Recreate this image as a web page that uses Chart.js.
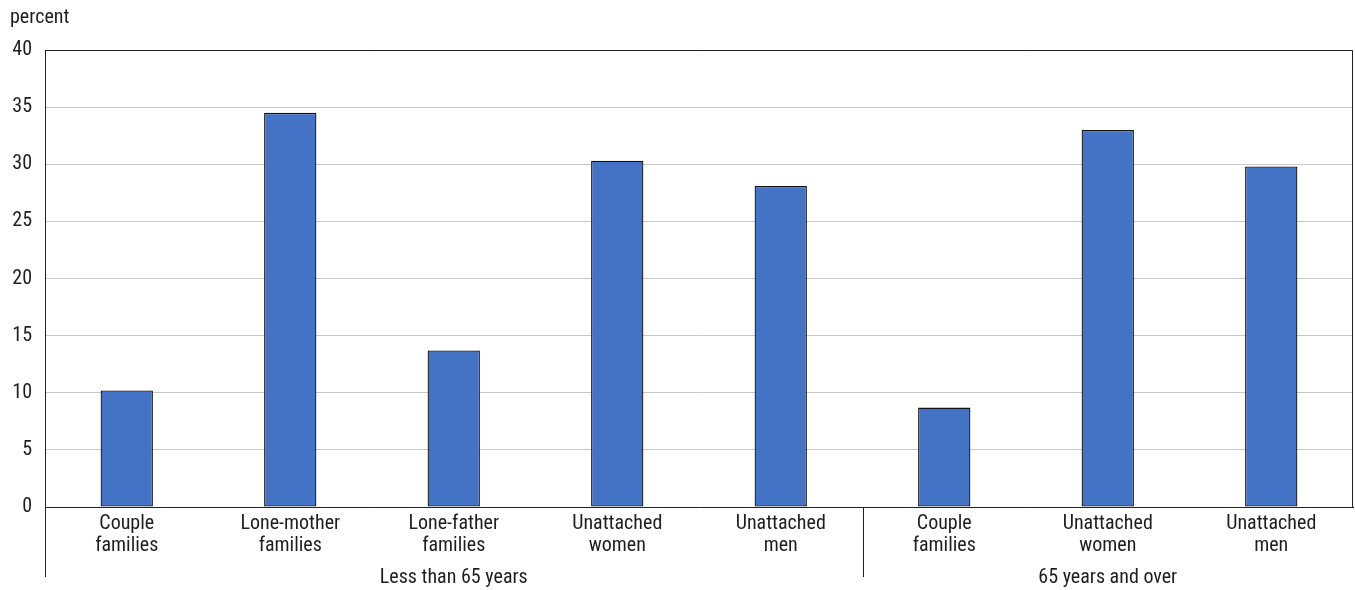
<!DOCTYPE html>
<html>
<head>
<meta charset="utf-8">
<script src="https://cdn.jsdelivr.net/npm/chart.js@4"></script>
<style>
  body { margin: 0; background: #fff; }
  #wrap { width: 1355px; height: 590px; }
</style>
</head>
<body>
<div id="wrap"><canvas id="chart" width="1355" height="590"></canvas></div>
<script>
// categories and values
var categories = [
  ["Couple", "families"],
  ["Lone-mother", "families"],
  ["Lone-father", "families"],
  ["Unattached", "women"],
  ["Unattached", "men"],
  ["Couple", "families"],
  ["Unattached", "women"],
  ["Unattached", "men"]
];
var values = [10.2, 34.5, 13.7, 30.3, 28.1, 8.7, 33.0, 29.8];
var groups = ["Less than 65 years", "65 years and over"];
var groupSizes = [5, 3];
var yTicks = [0, 5, 10, 15, 20, 25, 30, 35, 40];
var yTitle = "percent";

var FONT = "'Roboto Condensed', 'Liberation Sans Narrow', Roboto, sans-serif";
var TEXT = '#1e1e1e';

// axis title, group labels under the category labels, separator lines, frame
var groupPlugin = {
  id: 'groups',
  afterDraw: function(chart) {
    var ctx = chart.ctx;
    var area = chart.chartArea;
    var x = chart.scales.x;
    var step = (area.right - area.left) / categories.length;
    var bottom = 577;
    ctx.save();
    ctx.fillStyle = TEXT;
    ctx.font = '20px ' + FONT;
    ctx.textAlign = 'left';
    ctx.textBaseline = 'middle';
    ctx.fillText(yTitle, 10, 18);

    // frame top/right
    ctx.strokeStyle = '#222';
    ctx.lineWidth = 1;
    ctx.beginPath();
    ctx.moveTo(area.left, area.top + 0.5);
    ctx.lineTo(area.right - 0.5, area.top + 0.5);
    ctx.lineTo(area.right - 0.5, area.bottom);
    ctx.stroke();
    // left axis extension
    ctx.beginPath();
    ctx.moveTo(area.left + 0.5, area.bottom);
    ctx.lineTo(area.left + 0.5, bottom);
    ctx.stroke();

    ctx.textAlign = 'center';
    var start = 0;
    for (var i = 0; i < groups.length; i++) {
      var end = start + groupSizes[i];
      var x0 = x.getPixelForValue(start) - step / 2;
      var x1 = x.getPixelForValue(end - 1) + step / 2;
      if (i > 0) {
        ctx.beginPath();
        ctx.moveTo(Math.round(x0) + 0.5, area.bottom);
        ctx.lineTo(Math.round(x0) + 0.5, bottom);
        ctx.stroke();
      }
      ctx.fillText(groups[i], (x0 + x1) / 2, 578);
      start = end;
    }
    ctx.restore();
  }
};

new Chart(document.getElementById('chart'), {
  type: 'bar',
  data: {
    labels: categories,
    datasets: [{
      data: values,
      backgroundColor: '#4472c4',
      borderColor: '#111',
      borderWidth: 1.3,
      borderSkipped: false,
      categoryPercentage: 1,
      barPercentage: 0.32
    }]
  },
  options: {
    responsive: false,
    animation: false,
    layout: { padding: { left: 0, right: 2, top: 50, bottom: 0 } },
    plugins: {
      legend: { display: false },
      tooltip: { enabled: false },
      title: { display: false }
    },
    scales: {
      x: {
        grid: { display: false, drawTicks: false },
        border: { color: '#222', width: 1 },
        ticks: {
          color: TEXT,
          font: { family: FONT, size: 20, lineHeight: 1.1 },
          padding: 6,
          maxRotation: 0,
          autoSkip: false
        },
        afterFit: function(s) { s.height = 83; }
      },
      y: {
        min: 0,
        max: 40,
        afterBuildTicks: function(s) {
          s.ticks = yTicks.map(function(v) { return { value: v }; });
        },
        grid: { color: '#c8c8c8', drawTicks: false },
        border: { color: '#222', width: 1 },
        ticks: {
          color: TEXT,
          font: { family: FONT, size: 20 },
          padding: 13
        },
        afterFit: function(s) { s.width = 45; }
      }
    }
  },
  plugins: [groupPlugin]
});
</script>
</body>
</html>
